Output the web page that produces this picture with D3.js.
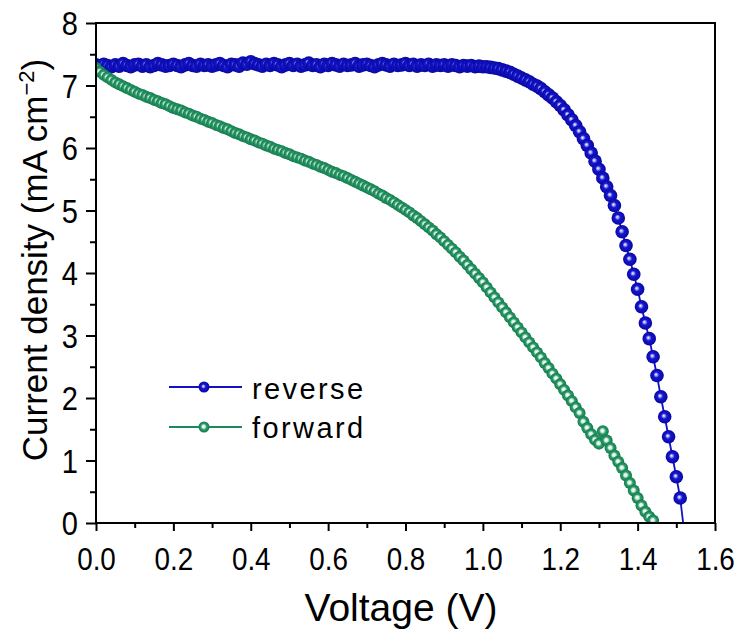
<!DOCTYPE html>
<html>
<head>
<meta charset="utf-8">
<script src="https://cdn.jsdelivr.net/npm/d3@7"></script>
<style>
  html, body { margin: 0; padding: 0; background: #fff; }
  svg { display: block; }
</style>
</head>
<body>
<svg id="chart" width="738" height="632"></svg>
<script>
// ---- data (voltage sweep in V, current density in mA cm^-2) ----
const voltage = [
  0.00,0.01,0.02,0.03,0.04,0.05,0.06,0.07,0.08,0.09,
  0.10,0.11,0.12,0.13,0.14,0.15,0.16,0.17,0.18,0.19,
  0.20,0.21,0.22,0.23,0.24,0.25,0.26,0.27,0.28,0.29,
  0.30,0.31,0.32,0.33,0.34,0.35,0.36,0.37,0.38,0.39,
  0.40,0.41,0.42,0.43,0.44,0.45,0.46,0.47,0.48,0.49,
  0.50,0.51,0.52,0.53,0.54,0.55,0.56,0.57,0.58,0.59,
  0.60,0.61,0.62,0.63,0.64,0.65,0.66,0.67,0.68,0.69,
  0.70,0.71,0.72,0.73,0.74,0.75,0.76,0.77,0.78,0.79,
  0.80,0.81,0.82,0.83,0.84,0.85,0.86,0.87,0.88,0.89,
  0.90,0.91,0.92,0.93,0.94,0.95,0.96,0.97,0.98,0.99,
  1.00,1.01,1.02,1.03,1.04,1.05,1.06,1.07,1.08,1.09,
  1.10,1.11,1.12,1.13,1.14,1.15,1.16,1.17,1.18,1.19,
  1.20,1.21,1.22,1.23,1.24,1.25,1.26,1.27,1.28,1.29,
  1.30,1.31,1.32,1.33,1.34,1.35,1.36,1.37,1.38,1.39,
  1.40,1.41,1.42,1.43,1.44,1.45,1.46,1.47,1.48,1.49,
  1.50,1.51,1.52
];

const reverseJ = [
  7.33,7.31,7.34,7.32,7.30,7.33,7.31,7.35,7.32,7.30,
  7.33,7.34,7.31,7.33,7.30,7.32,7.35,7.33,7.31,7.32,
  7.34,7.32,7.30,7.33,7.35,7.32,7.31,7.34,7.32,7.33,
  7.31,7.33,7.35,7.32,7.30,7.34,7.33,7.31,7.36,7.34,
  7.38,7.35,7.33,7.31,7.34,7.32,7.35,7.33,7.30,7.33,
  7.35,7.32,7.34,7.31,7.33,7.36,7.32,7.33,7.30,7.34,
  7.32,7.35,7.33,7.31,7.34,7.32,7.33,7.35,7.31,7.33,
  7.34,7.32,7.30,7.33,7.35,7.33,7.31,7.34,7.32,7.33,
  7.35,7.32,7.34,7.31,7.33,7.32,7.34,7.31,7.33,7.32,
  7.33,7.31,7.33,7.32,7.30,7.32,7.31,7.32,7.30,7.31,
  7.30,7.30,7.29,7.28,7.27,7.25,7.23,7.21,7.18,7.15,
  7.12,7.09,7.06,7.02,6.99,6.95,6.90,6.85,6.80,6.74,
  6.68,6.61,6.53,6.45,6.36,6.26,6.15,6.04,5.92,5.79,
  5.66,5.52,5.38,5.24,5.08,4.88,4.66,4.44,4.22,3.98,
  3.74,3.46,3.20,2.95,2.66,2.36,2.02,1.70,1.38,1.06,
  0.74,0.40,-0.12
];

const forwardJ = [
  7.28,7.22,7.17,7.13,7.09,7.05,7.02,6.99,6.96,6.93,
  6.90,6.87,6.85,6.82,6.80,6.77,6.75,6.72,6.70,6.67,
  6.64,6.62,6.60,6.57,6.55,6.52,6.50,6.47,6.45,6.42,
  6.40,6.37,6.35,6.32,6.30,6.27,6.24,6.22,6.19,6.17,
  6.14,6.12,6.09,6.07,6.04,6.02,5.99,5.97,5.95,5.92,
  5.90,5.87,5.85,5.83,5.80,5.78,5.75,5.73,5.70,5.68,
  5.65,5.62,5.60,5.57,5.55,5.52,5.49,5.46,5.43,5.40,
  5.37,5.34,5.31,5.27,5.24,5.20,5.17,5.13,5.09,5.05,
  5.01,4.97,4.92,4.88,4.83,4.78,4.73,4.68,4.62,4.57,
  4.51,4.45,4.39,4.33,4.26,4.20,4.13,4.06,3.99,3.92,
  3.85,3.77,3.69,3.61,3.53,3.45,3.37,3.29,3.21,3.13,
  3.05,2.97,2.89,2.81,2.73,2.65,2.56,2.48,2.39,2.31,
  2.22,2.13,2.04,1.95,1.85,1.76,1.62,1.52,1.42,1.33,
  1.27,1.47,1.32,1.20,1.08,0.98,0.88,0.76,0.64,0.52,
  0.40,0.28,0.18,0.10,0.04
];

const seriesNames = ["reverse", "forward"];
const xTicks = [0.0, 0.2, 0.4, 0.6, 0.8, 1.0, 1.2, 1.4, 1.6];
const xMinorTicks = [0.1, 0.3, 0.5, 0.7, 0.9, 1.1, 1.3, 1.5];
const yTicks = [0, 1, 2, 3, 4, 5, 6, 7, 8];
const yMinorTicks = [0.5, 1.5, 2.5, 3.5, 4.5, 5.5, 6.5, 7.5];

// ---- layout ----
const svg = d3.select("#chart");
const L = 96, R = 715, T = 23, B = 523;
const x = d3.scaleLinear().domain([0, 1.6]).range([L, R]);
const y = d3.scaleLinear().domain([0, 8]).range([B, T]);

const blue = "#1212c4", green = "#1b8a5a";
const mainFont = "'Liberation Sans', Arial, sans-serif";

const defs = svg.append("defs");
const gb = defs.append("radialGradient").attr("id", "gBlue")
  .attr("cx", "0.5").attr("cy", "0.5").attr("r", "0.5").attr("fx", "0.42").attr("fy", "0.42");
gb.append("stop").attr("offset", "0").attr("stop-color", "#ffffff");
gb.append("stop").attr("offset", "0.2").attr("stop-color", "#9a9af4");
gb.append("stop").attr("offset", "0.42").attr("stop-color", "#1616d2");
gb.append("stop").attr("offset", "1").attr("stop-color", "#0808a0");
const gg = defs.append("radialGradient").attr("id", "gGreen")
  .attr("cx", "0.5").attr("cy", "0.5").attr("r", "0.5").attr("fx", "0.45").attr("fy", "0.45");
gg.append("stop").attr("offset", "0").attr("stop-color", "#ffffff");
gg.append("stop").attr("offset", "0.28").attr("stop-color", "#d4eee0");
gg.append("stop").attr("offset", "0.55").attr("stop-color", "#2a9a6a");
gg.append("stop").attr("offset", "1").attr("stop-color", "#137a4a");

defs.append("clipPath").attr("id", "plotClip")
  .append("rect").attr("x", L).attr("y", T).attr("width", R - L).attr("height", B - T);

// ---- data marks ----
const reverseData = reverseJ.map((j, i) => ({ v: voltage[i], j }));
const forwardData = forwardJ.map((j, i) => ({ v: voltage[i], j }));
const line = d3.line().x(d => x(d.v)).y(d => y(d.j));

const plot = svg.append("g").attr("clip-path", "url(#plotClip)");

function drawSeries(data, color, grad, r) {
  plot.append("path").datum(data).attr("d", line)
    .attr("fill", "none").attr("stroke", color).attr("stroke-width", 1.8);
  plot.append("g").selectAll("circle").data(data).join("circle")
    .attr("cx", d => x(d.v)).attr("cy", d => y(d.j)).attr("r", r)
    .attr("fill", `url(#${grad})`);
}
drawSeries(reverseData, blue, "gBlue", 6.8);
drawSeries(forwardData, green, "gGreen", 6);

// ---- axes ----
const axes = svg.append("g");
axes.append("rect").attr("x", L).attr("y", T).attr("width", R - L).attr("height", B - T)
  .attr("fill", "none").attr("stroke", "#000").attr("stroke-width", 2);

const xf = 0.87, yf = 0.88;   // horizontal squeeze of tick digits (narrow face)

const xAxis = d3.axisBottom(x).tickValues(xTicks).tickFormat(d3.format(".1f")).tickSize(8).tickSizeOuter(0);
const xg = axes.append("g").attr("transform", `translate(0,${B})`).call(xAxis);
xg.select(".domain").remove();
xg.selectAll(".tick line").attr("stroke", "#000").attr("stroke-width", 2);
xg.selectAll(".tick text").attr("font-family", mainFont).attr("font-size", 32).attr("fill", "#000")
  .attr("y", 24).attr("dy", "0.71em").attr("transform", `scale(${xf},1)`);
const xmg = axes.append("g").attr("transform", `translate(0,${B})`)
  .call(d3.axisBottom(x).tickValues(xMinorTicks).tickSize(5).tickFormat(""));
xmg.select(".domain").remove();
xmg.selectAll(".tick line").attr("stroke", "#000").attr("stroke-width", 2);

const yAxis = d3.axisLeft(y).tickValues(yTicks).tickFormat(d3.format("d")).tickSize(10).tickSizeOuter(0);
const yg = axes.append("g").attr("transform", `translate(${L},0)`).call(yAxis);
yg.select(".domain").remove();
yg.selectAll(".tick line").attr("stroke", "#000").attr("stroke-width", 2);
yg.selectAll(".tick text").attr("font-family", mainFont).attr("font-size", 33).attr("fill", "#000")
  .attr("x", -18 / yf).attr("dy", "0.35em").attr("transform", `scale(${yf},1)`);
const ymg = axes.append("g").attr("transform", `translate(${L},0)`)
  .call(d3.axisLeft(y).tickValues(yMinorTicks).tickSize(6).tickFormat(""));
ymg.select(".domain").remove();
ymg.selectAll(".tick line").attr("stroke", "#000").attr("stroke-width", 2);

// ---- axis titles ----
svg.append("text").attr("x", 401).attr("y", 621).attr("text-anchor", "middle")
  .attr("font-family", mainFont).attr("font-size", 39).attr("fill", "#000").text("Voltage (V)");

const yt = svg.append("text").attr("transform", "translate(47,260) rotate(-90)")
  .attr("text-anchor", "middle").attr("font-family", mainFont).attr("font-size", 35).attr("fill", "#000");
yt.append("tspan").text("Current density (mA cm");
yt.append("tspan").attr("font-size", 22).attr("baseline-shift", "60%").text("−2");
yt.append("tspan").text(")");

// ---- legend ----
const legend = svg.append("g");
const legendRows = [
  { name: seriesNames[0], color: blue, grad: "gBlue", ly: 387, ty: 399 },
  { name: seriesNames[1], color: green, grad: "gGreen", ly: 427, ty: 438 }
];
legendRows.forEach(r => {
  legend.append("line").attr("x1", 169).attr("x2", 242).attr("y1", r.ly).attr("y2", r.ly)
    .attr("stroke", r.color).attr("stroke-width", 2.2);
  legend.append("circle").attr("cx", 204).attr("cy", r.ly).attr("r", 5.5).attr("fill", `url(#${r.grad})`);
  legend.append("text").attr("x", 252).attr("y", r.ty).attr("font-family", mainFont)
    .attr("font-size", 29).attr("letter-spacing", 2.4).attr("fill", "#000").text(r.name);
});
</script>
</body>
</html>
